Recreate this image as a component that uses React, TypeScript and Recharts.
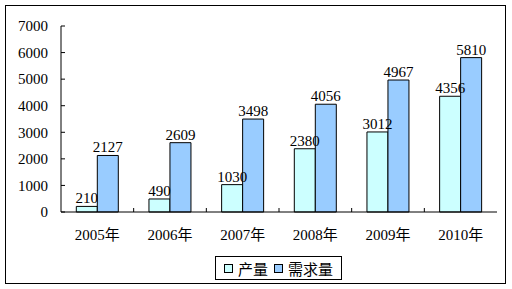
import { Bar, BarChart, LabelList, Legend, XAxis, YAxis } from "recharts";

const years = ["2005年", "2006年", "2007年", "2008年", "2009年", "2010年"];
const output = [210, 490, 1030, 2380, 3012, 4356];
const demand = [2127, 2609, 3498, 4056, 4967, 5810];
const yTicks = [0, 1000, 2000, 3000, 4000, 5000, 6000, 7000];

const data = years.map((year, i) => ({ year, output: output[i], demand: demand[i] }));

const W = 512;
const H = 289;
const LEFT = 61;
const RIGHT = 15;
const BAND = (W - LEFT - RIGHT) / years.length;
const FONT = "'Liberation Serif', 'Noto Sans CJK SC', serif";

function YTick({ x, y, payload }: any) {
  return (
    <g>
      <line x1={x} x2={x + 4} y1={y} y2={y} stroke="#000" />
      <text x={x - 13} y={y} dy="0.35em" textAnchor="end" fontSize={15} fontFamily={FONT} fill="#000">
        {payload.value}
      </text>
    </g>
  );
}

function XTick({ x, y, payload, index }: any) {
  const edge = x - BAND / 2;
  return (
    <g>
      {index > 0 && <line x1={edge} x2={edge} y1={y} y2={y - 4} stroke="#000" />}
      <text x={x} y={y + 28} textAnchor="middle" fontSize={15} fontFamily={FONT} fill="#000">
        {payload.value}
      </text>
    </g>
  );
}

function LegendBox({ payload }: any) {
  return (
    <div
      style={{
        boxSizing: "border-box",
        width: 127,
        height: 24,
        border: "1px solid #000",
        background: "#fff",
        display: "flex",
        alignItems: "center",
        justifyContent: "center",
        gap: 6,
        fontFamily: FONT,
        fontSize: 15,
        color: "#000",
      }}
    >
      {(payload ?? []).map((p: any) => (
        <span key={p.value} style={{ display: "flex", alignItems: "center", gap: 5 }}>
          <span
            style={{
              boxSizing: "border-box",
              width: 9,
              height: 9,
              border: "1px solid #000",
              background: p.color,
            }}
          />
          <span>{p.value}</span>
        </span>
      ))}
    </div>
  );
}

export default function App() {
  return (
    <div style={{ position: "absolute", left: 0, top: 0, width: W, height: H, background: "#fff" }}>
      <div
        style={{
          position: "absolute",
          left: 5,
          top: 5,
          width: 501,
          height: 279,
          boxSizing: "border-box",
          border: "1px solid #000",
        }}
      />
      <BarChart
        width={W}
        height={H}
        data={data}
        margin={{ top: 26, right: RIGHT, left: 0, bottom: 0 }}
        barCategoryGap={15.3}
        barGap={0}
        style={{ position: "absolute", left: 0, top: 0 }}
      >
        <XAxis
          dataKey="year"
          height={H - 212}
          axisLine={{ stroke: "#000" }}
          tickLine={false}
          tickSize={0}
          tickMargin={0}
          interval={0}
          tick={<XTick />}
        />
        <XAxis xAxisId="top" dataKey="year" orientation="top" height={0} tick={false} tickLine={false} axisLine={{ stroke: "#808080" }} />
        <YAxis
          width={LEFT}
          domain={[0, 7000]}
          ticks={yTicks}
          interval={0}
          axisLine={{ stroke: "#000" }}
          tickLine={false}
          tickSize={0}
          tickMargin={0}
          tick={<YTick />}
        />
        <YAxis yAxisId="r" orientation="right" width={0} domain={[0, 7000]} tick={false} tickLine={false} axisLine={{ stroke: "#808080" }} />
        <Legend
          layout="horizontal"
          align="center"
          verticalAlign="middle"
          content={<LegendBox />}
          wrapperStyle={{ position: "absolute", left: 215, top: 256, width: 127, height: 24 }}
        />
        <Bar dataKey="output" name="产量" fill="#CCFFFF" stroke="#000" strokeWidth={1} isAnimationActive={false}>
          <LabelList dataKey="output" position="top" offset={3} fontSize={15} fontFamily={FONT} fill="#000" />
        </Bar>
        <Bar dataKey="demand" name="需求量" fill="#99CCFF" stroke="#000" strokeWidth={1} isAnimationActive={false}>
          <LabelList dataKey="demand" position="top" offset={3} fontSize={15} fontFamily={FONT} fill="#000" />
        </Bar>
      </BarChart>
    </div>
  );
}
